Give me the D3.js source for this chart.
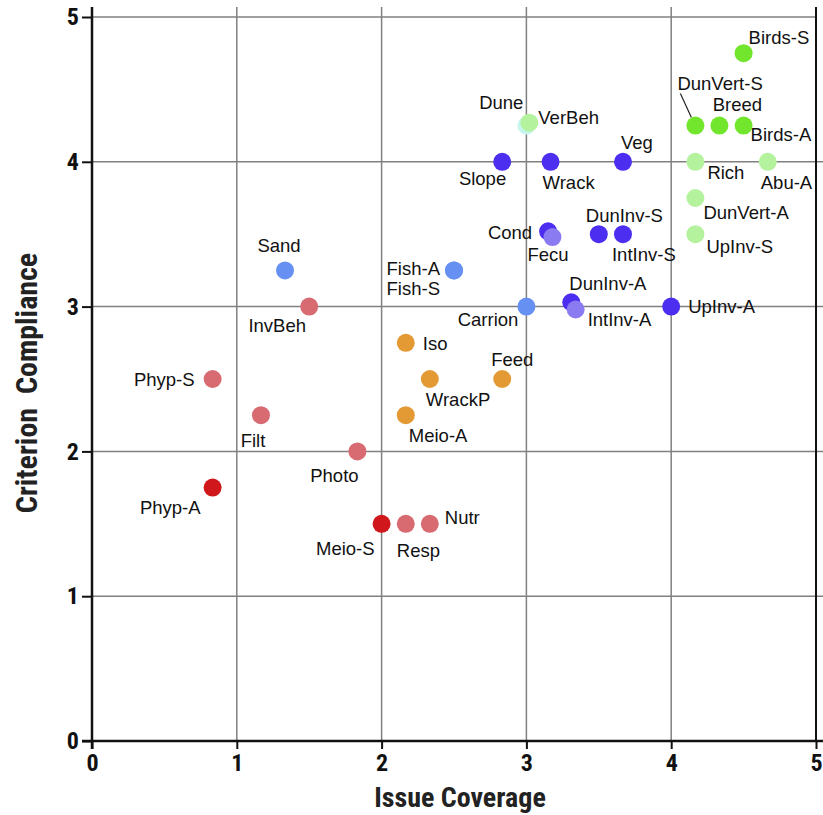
<!DOCTYPE html>
<html>
<head>
<meta charset="utf-8">
<script src="https://cdn.jsdelivr.net/npm/d3@7"></script>
<style>
  body { margin: 0; background: #fff; }
  svg text { font-family: "Liberation Sans", Arial, sans-serif; }
  svg text.narrow { font-family: "Liberation Sans Narrow", "Arial Narrow", "Roboto Condensed", "Liberation Sans", sans-serif; }
</style>
</head>
<body>
<div id="chart"></div>
<script>
  // Indicator names, scores and colour group
  const names = ['Dune', 'VerBeh', 'Birds-S', 'DunVert-S', 'Breed', 'Birds-A', 'Rich', 'Abu-A', 'DunVert-A', 'UpInv-S',
    'Slope', 'Wrack', 'Veg', 'Cond', 'Fecu', 'DunInv-S', 'IntInv-S', 'DunInv-A', 'IntInv-A', 'UpInv-A',
    'Carrion', 'Fish-A', 'Fish-S', 'Sand', 'Iso', 'WrackP', 'Feed', 'Meio-A',
    'InvBeh', 'Phyp-S', 'Filt', 'Photo', 'Resp', 'Nutr', 'Phyp-A', 'Meio-S'];
  const issueCoverage = [3.0, 3.02, 4.5, 4.167, 4.333, 4.5, 4.167, 4.667, 4.167, 4.167,
    2.833, 3.167, 3.667, 3.15, 3.18, 3.5, 3.667, 3.31, 3.34, 4.0,
    3.0, 2.5, 2.5, 1.333, 2.167, 2.333, 2.833, 2.167,
    1.5, 0.833, 1.167, 1.833, 2.167, 2.333, 0.833, 2.0];
  const criterionCompliance = [4.25, 4.27, 4.75, 4.25, 4.25, 4.25, 4.0, 4.0, 3.75, 3.5,
    4.0, 4.0, 4.0, 3.52, 3.48, 3.5, 3.5, 3.03, 2.98, 3.0,
    3.0, 3.25, 3.25, 3.25, 2.75, 2.5, 2.5, 2.25,
    3.0, 2.5, 2.25, 2.0, 1.5, 1.5, 1.75, 1.5];
  const groups = ['cyan', 'lightgreen', 'green', 'green', 'green', 'green', 'lightgreen', 'lightgreen', 'lightgreen', 'lightgreen',
    'violet', 'violet', 'violet', 'violet', 'lilac', 'violet', 'violet', 'violet', 'lilac', 'violet',
    'blue', 'blue', 'blue', 'blue', 'orange', 'orange', 'orange', 'orange',
    'pink', 'pink', 'pink', 'pink', 'pink', 'pink', 'red', 'red'];
  const xTicks = [0, 1, 2, 3, 4, 5];
  const yTicks = [0, 1, 2, 3, 4, 5];

  const groupColor = {
    cyan: '#c6f5f0', lightgreen: '#b5f29e', green: '#72e62c', violet: '#4b2ef0', lilac: '#8a7cf0',
    blue: '#6690f2', orange: '#e39a34', pink: '#d86a72', red: '#d0171b'
  };

  // label placement: [dx, dy(baseline), anchor] relative to the point
  const labelPlace = {
    'Dune': [-3, -17, 'end'], 'VerBeh': [9, 1, 'start'], 'Birds-S': [5, -9, 'start'],
    'DunVert-S': [-18, -36, 'start'], 'Breed': [18, -15, 'middle'], 'Birds-A': [7, 15, 'start'],
    'Rich': [12, 17, 'start'], 'Abu-A': [-7, 27, 'start'], 'DunVert-A': [8, 21, 'start'],
    'UpInv-S': [11, 19, 'start'], 'Slope': [4, 23, 'end'], 'Wrack': [-8, 27, 'start'],
    'Veg': [-2, -13, 'start'], 'Cond': [-16, 8, 'end'], 'Fecu': [-25, 24, 'start'],
    'DunInv-S': [-13, -12, 'start'], 'IntInv-S': [-11, 27, 'start'], 'DunInv-A': [-2, -12, 'start'],
    'IntInv-A': [12, 17, 'start'], 'UpInv-A': [17, 6, 'start'], 'Carrion': [-8, 19, 'end'],
    'Fish-A': [-14, 5, 'end'], 'Fish-S': [-14, 25, 'end'], 'Sand': [-6, -18, 'middle'],
    'Iso': [17, 7, 'start'], 'WrackP': [-4, 27, 'start'], 'Feed': [10, -13, 'middle'],
    'Meio-A': [3, 27, 'start'], 'InvBeh': [-32, 25, 'middle'], 'Phyp-S': [-18, 7, 'end'],
    'Filt': [-8, 32, 'middle'], 'Photo': [-23, 31, 'middle'], 'Resp': [-9, 33, 'start'],
    'Nutr': [15, 0, 'start'], 'Phyp-A': [-12, 26, 'end'], 'Meio-S': [-7, 31, 'end']
  };

  const W = 823, H = 815;
  const margin = { top: 17, right: 7, bottom: 74, left: 92 };
  const width = 724, height = 724;

  const svg = d3.select('#chart').append('svg')
    .attr('width', W)
    .attr('height', H);

  const g = svg.append('g')
    .attr('transform', `translate(${margin.left},${margin.top})`);

  const x = d3.scaleLinear().domain([0, 5]).range([0, width]);
  const y = d3.scaleLinear().domain([0, 5]).range([height, 0]);

  // Grid
  g.selectAll('.hgrid')
    .data(yTicks.filter(d => d > 0))
    .enter().append('line')
    .attr('x1', 0)
    .attr('x2', d => d === 5 ? width : W - margin.left)
    .attr('y1', d => y(d)).attr('y2', d => y(d))
    .attr('stroke', '#808080')
    .attr('stroke-width', 1.5);

  g.selectAll('.vgrid')
    .data(xTicks.filter(d => d > 0))
    .enter().append('line')
    .attr('x1', d => x(d)).attr('x2', d => x(d))
    .attr('y1', -10).attr('y2', height)
    .attr('stroke', d => d === 5 ? '#111' : '#808080')
    .attr('stroke-width', d => d === 5 ? 2 : 1.5);

  // Axes
  const xAxis = g.append('g')
    .attr('transform', `translate(0,${height})`)
    .call(d3.axisBottom(x).tickValues(xTicks).tickFormat(d3.format('d')).tickSize(8).tickSizeOuter(0));
  xAxis.select('.domain').attr('stroke', '#111').attr('stroke-width', 2.5)
    .attr('d', `M-10,0H${W - margin.left}`);
  xAxis.selectAll('.tick line').attr('stroke', '#111').attr('stroke-width', 2);
  xAxis.selectAll('text')
    .attr('class', 'narrow')
    .attr('y', 13)
    .style('font-size', '24px')
    .style('font-weight', 'bold')
    .attr('fill', '#111');

  const yAxis = g.append('g')
    .call(d3.axisLeft(y).tickValues(yTicks).tickFormat(d3.format('d')).tickSize(10).tickSizeOuter(0));
  yAxis.select('.domain').attr('stroke', '#111').attr('stroke-width', 2.5)
    .attr('d', `M0,${height + 8}V-10`);
  yAxis.selectAll('.tick line').attr('stroke', '#111').attr('stroke-width', 2);
  yAxis.selectAll('text')
    .attr('class', 'narrow')
    .attr('x', -13)
    .style('font-size', '24px')
    .style('font-weight', 'bold')
    .attr('fill', '#111');

  // Axis titles
  svg.append('text')
    .attr('class', 'narrow')
    .attr('x', margin.left + width / 2 + 6)
    .attr('y', 807)
    .attr('text-anchor', 'middle')
    .style('font-size', '28px')
    .style('font-weight', 'bold')
    .attr('fill', '#222')
    .text('Issue Coverage');

  svg.append('text')
    .attr('class', 'narrow')
    .attr('transform', `translate(37,${margin.top + y(2.5) + 4}) rotate(-90)`)
    .attr('text-anchor', 'middle')
    .style('font-size', '30px')
    .style('font-weight', 'bold')
    .style('white-space', 'pre')
    .attr('fill', '#222')
    .text('Criterion\u00a0\u00a0Compliance');

  const points = names.map((n, i) => ({
    name: n, ic: issueCoverage[i], cc: criterionCompliance[i], group: groups[i]
  }));

  // Leader line for DunVert-S
  const dv = points.find(p => p.name === 'DunVert-S');
  g.append('line')
    .attr('x1', x(dv.ic) - 15).attr('y1', y(dv.cc) - 32)
    .attr('x2', x(dv.ic) - 4).attr('y2', y(dv.cc) - 8)
    .attr('stroke', '#222')
    .attr('stroke-width', 1.2);

  // Points
  g.selectAll('.pt')
    .data(points)
    .enter().append('circle')
    .attr('class', 'pt')
    .attr('cx', d => x(d.ic))
    .attr('cy', d => y(d.cc))
    .attr('r', 9)
    .attr('fill', d => groupColor[d.group]);

  // Labels
  g.selectAll('.lbl')
    .data(points)
    .enter().append('text')
    .attr('class', 'lbl')
    .attr('x', d => x(d.ic) + labelPlace[d.name][0])
    .attr('y', d => y(d.cc) + labelPlace[d.name][1])
    .attr('text-anchor', d => labelPlace[d.name][2])
    .style('font-size', '18.5px')
    .attr('fill', '#111')
    .text(d => d.name);
</script>
</body>
</html>
